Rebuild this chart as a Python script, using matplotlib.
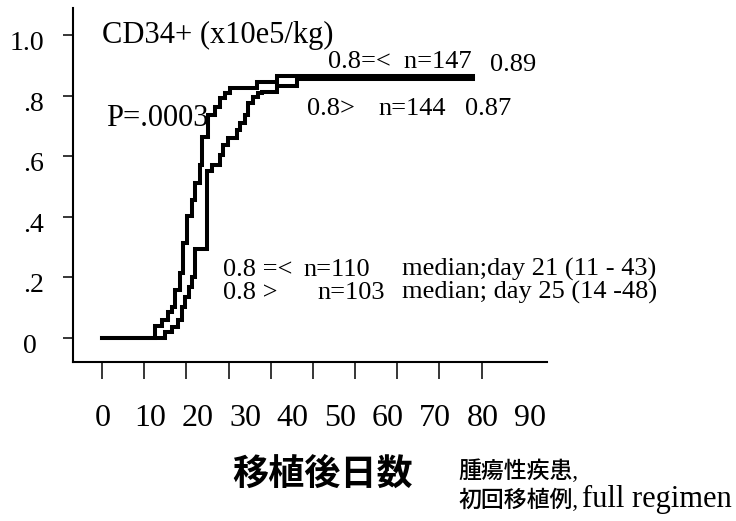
"""
Cumulative engraftment curves by CD34+ dose (step plot)
"""
import matplotlib
matplotlib.use('Agg')
import matplotlib.pyplot as plt
from matplotlib.transforms import ScaledTranslation

# cumulative incidence, 0.8=< group (faster)
days_hi = [0, 12.6, 14.1, 15.7, 16.5, 17.3, 18.5, 19.3, 20.1, 21.3, 22.0, 23.2, 23.6,
           25.2, 26.8, 28.0, 29.1, 30.3, 36.7, 41.4, 88]
vals_hi = [0, 0.04, 0.059, 0.087, 0.104, 0.158, 0.215, 0.314, 0.402, 0.455, 0.51, 0.571,
           0.664, 0.736, 0.763, 0.791, 0.808, 0.824, 0.846, 0.866, 0.866]

# 0.8> group (slower)
days_lo = [0, 14.9, 16.5, 18.1, 18.9, 19.7, 20.5, 21.3, 22.0, 24.8, 26.0, 28.0,
           28.7, 29.9, 31.9, 32.7, 33.9, 34.7, 35.9, 37.0, 37.8, 41.4, 46.2, 88]
vals_lo = [0, 0.021, 0.037, 0.059, 0.104, 0.137, 0.17, 0.203, 0.295, 0.55, 0.571,
           0.604, 0.637, 0.66, 0.686, 0.71, 0.736, 0.776, 0.796, 0.808, 0.813, 0.83,
           0.855, 0.855]

x_ticks = [0, 10, 20, 30, 40, 50, 60, 70, 80, 90]
y_ticks = [0, 0.2, 0.4, 0.6, 0.8, 1.0]
y_tick_labels = ['0 ', '.2', '.4', '.6', '.8', '1.0']

SERIF = 'Liberation Serif'
MIXED = [SERIF, 'Noto Sans CJK JP']

fig = plt.figure(figsize=(7.36, 5.21), dpi=100)
ax = fig.add_axes([73 / 736, 159 / 521, 474 / 736, 354 / 521])

ax.plot(days_hi, vals_hi, drawstyle='steps-post', color='black', linewidth=2.9,
        solid_joinstyle='miter')
ax.plot(days_lo, vals_lo, drawstyle='steps-post', color='black', linewidth=2.9,
        solid_joinstyle='miter')

ax.set_xlim(-6.9, 105.5)
ax.set_ylim(-0.079, 1.089)

for side in ['top', 'right']:
    ax.spines[side].set_visible(False)
for side in ['left', 'bottom']:
    ax.spines[side].set_linewidth(1.5)

ax.set_xticks(x_ticks)
ax.set_xticklabels([])
ax.tick_params(axis='x', direction='out', length=12, width=1.1)
ax.set_yticks(y_ticks)
ax.set_yticklabels(y_tick_labels, fontsize=20, family=SERIF)
ax.tick_params(axis='y', direction='out', length=7, width=1.1, pad=14)
# labels sit a little below their ticks in the original
shift = ScaledTranslation(0, -4 / 72, fig.dpi_scale_trans)
for lab in ax.get_yticklabels():
    lab.set_transform(lab.get_transform() + shift)

# x labels in the original are spread wider than the tick marks
sec = ax.secondary_xaxis(-0.118, functions=(lambda x: (x - 0.237) / 1.1245,
                                            lambda v: 0.237 + 1.1245 * v))
sec.set_xticks(x_ticks)
sec.set_xticklabels([str(t) for t in x_ticks], fontsize=23, family=SERIF)
sec.tick_params(length=0, pad=0)
sec.spines['bottom'].set_visible(False)

ax.text(0, 1.0, 'CD34+ (x10e5/kg)', fontsize=22, family=SERIF, ha='left', va='center')
ax.text(0.9, 0.725, 'P=.0003', fontsize=22, family=SERIF, ha='left', va='center')
ax.text(53.5, 0.912, '0.8=<  n=147', fontsize=19, family=SERIF, ha='left', va='center')
ax.text(92, 0.902, '0.89', fontsize=19, family=SERIF, ha='left', va='center')
ax.text(48.5, 0.755, '0.8>', fontsize=19, family=SERIF, ha='left', va='center')
ax.text(65.5, 0.755, 'n=144', fontsize=19, family=SERIF, ha='left', va='center')
ax.text(86, 0.755, '0.87', fontsize=19, family=SERIF, ha='left', va='center')

ax.text(28.7, 0.225, '0.8 =<', fontsize=19, family=SERIF, ha='left', va='center')
ax.text(47.7, 0.225, 'n=110', fontsize=19, family=SERIF, ha='left', va='center')
ax.text(71.1, 0.225, 'median;day 21 (11 - 43)', fontsize=19, family=SERIF,
        ha='left', va='center')
ax.text(28.7, 0.15, '0.8 >', fontsize=19, family=SERIF, ha='left', va='center')
ax.text(51, 0.15, 'n=103', fontsize=19, family=SERIF, ha='left', va='center')
ax.text(71.1, 0.15, 'median; day 25 (14 -48)', fontsize=19, family=SERIF,
        ha='left', va='center')

fig.text(232 / 736, 1 - 474 / 521, '移植後日数', fontsize=26, family='Noto Sans CJK JP',
         fontweight='bold', ha='left', va='center')
fig.text(458 / 736, 1 - 471 / 521, '腫瘍性疾患,', fontsize=16.5, family=MIXED,
         fontweight='medium', ha='left', va='center')
fig.text(458 / 736, 1 - 500 / 521, '初回移植例,', fontsize=16.5, family=MIXED,
         fontweight='medium', ha='left', va='center')
fig.text(582 / 736, 1 - 499 / 521, 'full regimen', fontsize=22, family=SERIF,
         ha='left', va='center')

fig.savefig('out.png', dpi=100)
plt.close(fig)
